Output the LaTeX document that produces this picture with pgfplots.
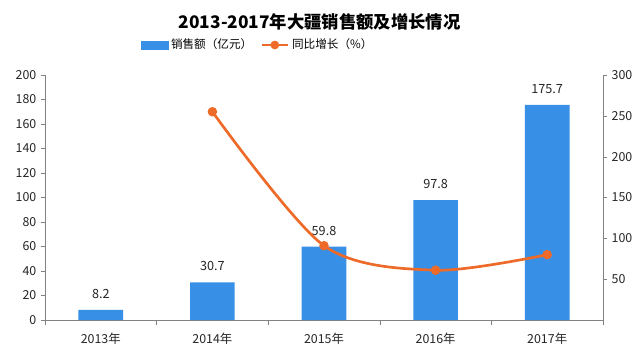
\documentclass[border=0pt]{standalone}
\usepackage{pgfplots}
\pgfplotsset{compat=1.18}
\usepackage{fontspec}
\setmainfont{Noto Sans CJK SC}
\definecolor{barblue}{RGB}{56,143,230}
\definecolor{lineorange}{RGB}{238,106,40}
\definecolor{axgray}{RGB}{130,130,130}
\begin{document}
\begin{tikzpicture}
\useasboundingbox (-33.75pt,-25.5pt) rectangle (446.25pt,240pt);
\begin{axis}[
  scale only axis, width=418.5pt, height=183.75pt,
  xmin=-0.5, xmax=4.5, ymin=0, ymax=200,
  axis x line*=bottom, axis y line*=left,
  axis line style={axgray},
  xtick={0,1,2,3,4},
  xticklabels={2013年,2014年,2015年,2016年,2017年},
  minor xtick={-0.5,0.5,1.5,2.5,3.5,4.5},
  major x tick style={draw=none},
  minor x tick style={axgray},
  minor tick length=4pt,
  ytick={0,20,...,200},
  y tick style={axgray},
  major tick length=3pt,
  tick align=outside,
  tick label style={font=\fontsize{9.3pt}{11pt}\selectfont, text=black!85},
  /pgf/number format/assume math mode=true,
  xticklabel style={yshift=-3pt},
  ybar, bar width=33.5pt,
  nodes near coords,
  nodes near coords style={font=\fontsize{9.5pt}{11pt}\selectfont, text=black!85, /pgf/number format/fixed, /pgf/number format/fixed zerofill, /pgf/number format/precision=1, yshift=5pt},
  clip=false,
]
\addplot[fill=barblue, draw=none] coordinates {(0,8.2) (1,30.7) (2,59.8) (3,97.8) (4,175.7)};
\end{axis}
\begin{axis}[
  scale only axis, width=418.5pt, height=183.75pt,
  xmin=-0.5, xmax=4.5, ymin=0, ymax=300,
  axis x line=none, axis y line*=right,
  axis line style={axgray},
  ytick={50,100,...,300},
  y tick style={axgray},
  major tick length=3pt,
  tick align=outside,
  tick label style={font=\fontsize{9.3pt}{11pt}\selectfont, text=black!85},
  /pgf/number format/assume math mode=true,
  legend style={at={(0.382,1.0)}, yshift=22.5pt, anchor=center, draw=none, fill=none, legend columns=2,
    font=\fontsize{8.7pt}{10pt}\selectfont, /tikz/every even column/.append style={column sep=4pt}},
  clip=false,
]
\addlegendimage{legend image code/.code={\fill[barblue] (0cm,-0.11cm) rectangle (0.7cm,0.11cm);}}
\addlegendentry{销售额（亿元）}
\addplot[lineorange, line width=2pt, smooth, mark=*, mark size=2.5pt, mark options={fill=lineorange, draw=lineorange},
  legend image code/.code={\draw[lineorange, line width=2pt] (0cm,0cm) -- (0.7cm,0cm); \fill[lineorange] (0.35cm,0cm) circle (2.2pt);}]
  coordinates {(1,255) (2,91) (3,61) (4,80)};
\addlegendentry{同比增长（\%）}
\end{axis}
\node[font=\bfseries\fontsize{13pt}{15pt}\selectfont] at (206pt,223.5pt) {2013-2017年大疆销售额及增长情况};
\end{tikzpicture}
\end{document}
